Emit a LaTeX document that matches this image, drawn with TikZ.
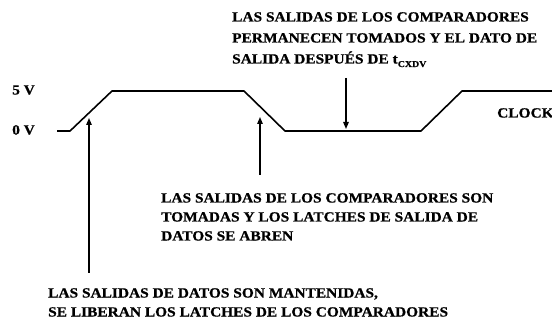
\documentclass[tikz,border=0pt]{standalone}
\usepackage{fontspec}
\usetikzlibrary{arrows.meta}
\newfontfamily\wide[FakeStretch=1.1,FakeBold=0.8]{Liberation Serif}
\begin{document}
\begin{tikzpicture}[x=1pt,y=-1pt,
  lbl/.style={inner sep=0pt,anchor=base west,align=left,font={\wide\bfseries\fontsize{14}{20}\selectfont}},
  wave/.style={line width=1.6pt,line join=round},
  ptr/.style={line width=1.3pt,-{Triangle[length=7pt,width=5.5pt]}}]
\useasboundingbox (0,0) rectangle (552,323);
\clip (0,0) rectangle (552,323);
% waveform
\draw[wave] (57,131) -- (70,131) -- (112,91) -- (244,91) -- (285,131) -- (421,131) -- (462,91) -- (560,91);
% labels
\node[lbl] (v5) at (12,94.5) {5 V};
\node[lbl] (v0) at (12,134.5) {0 V};
\node[lbl] (clk) at (497,117.5) {CLOCK};
\node[lbl,font={\wide\bfseries\fontsize{14}{21}\selectfont}] (top) at (232,63.5)
  {LAS SALIDAS DE LOS COMPARADORES\\PERMANECEN TOMADOS Y EL DATO DE\\SALIDA DESPUÉS DE t\raisebox{-3.5pt}{\fontsize{9}{9}\selectfont CXDV}};
\node[lbl,font={\wide\bfseries\fontsize{14}{19}\selectfont}] (mid) at (161,240.5)
  {LAS SALIDAS DE LOS COMPARADORES SON\\TOMADAS Y LOS LATCHES DE SALIDA DE\\DATOS SE ABREN};
\node[lbl,font={\wide\bfseries\fontsize{14}{19}\selectfont}] (bot) at (48,316.5)
  {LAS SALIDAS DE DATOS SON MANTENIDAS,\\SE LIBERAN LOS LATCHES DE LOS COMPARADORES};
% arrows
\coordinate (a1s) at (89,273);
\coordinate (a1e) at (89,118);
\coordinate (a2s) at (260,175);
\coordinate (a2e) at (260,117);
\coordinate (a3s) at (346,78);
\coordinate (a3e) at (346,129);
\draw[ptr] (a1s) -- (a1e);
\draw[ptr] (a2s) -- (a2e);
\draw[ptr] (a3s) -- (a3e);
\end{tikzpicture}
\end{document}
